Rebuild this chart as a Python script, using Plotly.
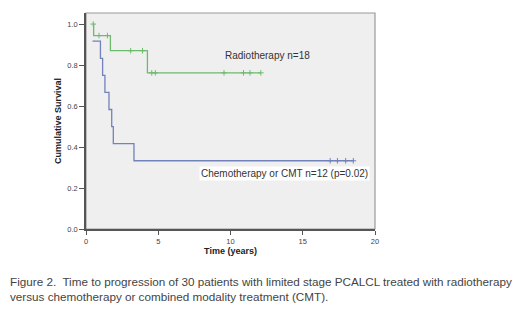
import plotly.graph_objects as go

# ---- data ----
radio_start_t = 0.5
radio_event_t = [0.53, 1.69, 4.25]
radio_event_s = [0.944, 0.870, 0.762]
radio_end_t = 12.1
radio_cens_t = [0.5, 0.9, 1.48, 3.09, 3.91, 4.55, 4.8, 9.55, 10.9, 11.35, 12.1]
radio_cens_s = [1.0, 0.944, 0.944, 0.870, 0.870, 0.762, 0.762, 0.762, 0.762, 0.762, 0.762]

chemo_start_t = 0.45
chemo_start_s = 0.917
chemo_event_t = [1.0, 1.15, 1.31, 1.59, 1.78, 1.89, 3.32]
chemo_event_s = [0.833, 0.750, 0.667, 0.583, 0.500, 0.417, 0.333]
chemo_end_t = 18.5
chemo_cens_t = [16.9, 17.4, 17.97, 18.5]
chemo_cens_s = [0.333, 0.333, 0.333, 0.333]

x_ticks = [0, 5, 10, 15, 20]
y_ticks = [0.0, 0.2, 0.4, 0.6, 0.8, 1.0]

GREEN = "#6dbb6d"
BLUE = "#7282ba"


def steps(t0, s0, ts, ss, tend):
    xs, ys = [t0], [s0]
    for t, s in zip(ts, ss):
        xs.append(t)
        ys.append(s)
    xs.append(tend)
    ys.append(ss[-1])
    return xs, ys


rx, ry = steps(radio_start_t, 1.0, radio_event_t, radio_event_s, radio_end_t)
cx, cy = steps(chemo_start_t, chemo_start_s, chemo_event_t, chemo_event_s, chemo_end_t)

fig = go.Figure()
fig.add_trace(go.Scatter(x=cx, y=cy, mode="lines", line=dict(color=BLUE, width=1.3, shape="hv"),
                         hoverinfo="skip", showlegend=False))
fig.add_trace(go.Scatter(x=chemo_cens_t, y=chemo_cens_s, mode="markers",
                         marker=dict(symbol="cross-thin", size=4, line=dict(color=BLUE, width=1)),
                         showlegend=False))
fig.add_trace(go.Scatter(x=rx, y=ry, mode="lines", line=dict(color=GREEN, width=1.3, shape="hv"),
                         hoverinfo="skip", showlegend=False))
fig.add_trace(go.Scatter(x=radio_cens_t, y=radio_cens_s, mode="markers",
                         marker=dict(symbol="cross-thin", size=4, line=dict(color=GREEN, width=1)),
                         showlegend=False))

fig.add_annotation(x=9.48, y=0.849, text="Radiotherapy n=18", showarrow=False,
                   xanchor="left", yanchor="middle", font=dict(family="Liberation Sans, Arial", size=10, color="#333"))
fig.add_annotation(x=7.85, y=0.273, text="Chemotherapy or CMT n=12 (p=0.02)", showarrow=False,
                   xanchor="left", yanchor="middle", bgcolor="#ffffff", borderpad=1,
                   font=dict(family="Liberation Sans, Arial", size=10, color="#333"))

# plot-area frame (lighter) drawn as shape
fig.add_shape(type="rect", xref="paper", yref="paper", x0=0, y0=0, x1=1, y1=1,
              line=dict(color="#9a9a9a", width=1.2), layer="below")

# caption
fig.add_annotation(xref="paper", yref="paper", x=-0.27, y=-0.205, xanchor="left", yanchor="top",
                   align="left", showarrow=False,
                   text="Figure 2.&nbsp; Time to progression of 30 patients with limited stage PCALCL treated with radiotherapy<br>"
                        "versus chemotherapy or combined modality treatment (CMT).",
                   font=dict(family="Liberation Sans, Arial", size=11.7, color="#444"))

fig.update_layout(
    width=512, height=314,
    margin=dict(l=78, r=145, t=5, b=93),
    paper_bgcolor="white", plot_bgcolor="#efefef",
    font=dict(family="Liberation Sans, Arial", color="#333"),
    xaxis=dict(range=[0, 20], tickvals=x_ticks, ticks="outside", ticklen=4, tickcolor="#555",
               showgrid=False, zeroline=False, showline=True, linecolor="#555", linewidth=1.5,
               tickfont=dict(size=7.5, color="#444"),
               title=dict(text="<b>Time (years)</b>", font=dict(size=9, color="#222"), standoff=2)),
    yaxis=dict(range=[0, 1.054], tickvals=y_ticks, tickformat=".1f", ticks="outside", ticklen=5,
               tickcolor="#555", showgrid=False, zeroline=False, showline=True, linecolor="#555",
               linewidth=1.5, tickfont=dict(size=7.5, color="#444"),
               title=dict(text="<b>Cumulative Survival</b>", font=dict(size=9, color="#222"), standoff=4)),
)

fig.write_html("out.html")
